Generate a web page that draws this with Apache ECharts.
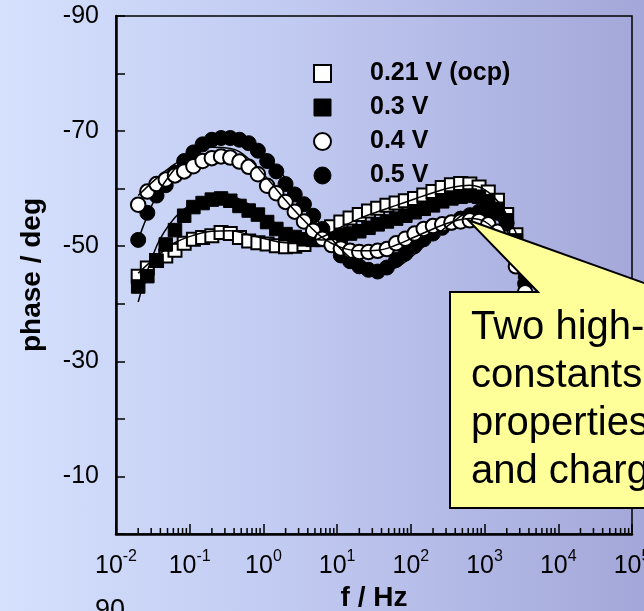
<!DOCTYPE html>
<html><head><meta charset="utf-8">
<script src="https://cdn.jsdelivr.net/npm/echarts@6/dist/echarts.min.js"></script>
<style>
html,body{margin:0;padding:0;overflow:hidden;}
#c{width:644px;height:611px;background:linear-gradient(to right,#d5e1fd 0%,#c1caf1 45%,#a3a7d9 100%);}
</style></head><body><div id="c"></div>
<script>
// frequencies (Hz) of the measured points
const freq = [0.02,0.02661,0.03548,0.04732,0.0631,0.08414,0.1122,0.1496,0.1995,0.2661,0.3548,0.4732,0.631,0.8414,1.122,1.496,1.995,2.661,3.548,4.732,6.31,8.414,11.22,14.96,19.95,26.61,35.48,47.32,63.1,84.14,112.2,149.6,199.5,266.1,354.8,473.2,631,841.4,1122,1496,1995,2661,3548];
// measured phase (deg)
const ph021 = [-44.8,-46.2,-47.5,-48.3,-49.3,-50.5,-51.2,-51.5,-51.8,-52.4,-52.2,-51.5,-50.9,-50.6,-50.4,-50.1,-49.9,-50.0,-50.3,-51.2,-52.3,-53.4,-54.2,-54.9,-55.5,-56.1,-56.6,-57.1,-57.5,-57.9,-58.3,-58.9,-59.5,-60.2,-60.7,-60.9,-60.8,-60.3,-59.4,-58.0,-55.5,-52.0,-48.0];
const ph03 = [-43.0,-44.8,-47.5,-50.3,-52.8,-55.3,-56.8,-57.5,-58.1,-58.3,-57.9,-57.0,-56.2,-55.5,-54.2,-53.0,-52.1,-51.6,-51.2,-51.1,-51.1,-51.3,-51.8,-52.2,-52.6,-53.2,-53.8,-54.3,-54.8,-55.3,-55.9,-56.5,-57.1,-57.8,-58.3,-58.6,-58.8,-58.6,-57.8,-56.5,-54.5,-51.0,-45.5];
const ph04 = [-57.2,-59.5,-60.8,-61.6,-62.3,-63.0,-63.9,-64.8,-65.3,-65.6,-65.4,-64.7,-63.8,-62.5,-60.5,-59.2,-57.7,-56.0,-54.3,-52.7,-51.3,-50.2,-49.6,-49.2,-49.0,-49.0,-49.2,-49.5,-50.5,-51.3,-52.2,-53.0,-53.5,-53.8,-54.1,-54.3,-54.5,-54.4,-53.8,-52.5,-50.0,-46.5,-42.0];
const ph05 = [-51.1,-55.8,-58.8,-60.6,-62.8,-64.8,-66.3,-67.7,-68.5,-68.8,-68.8,-68.5,-67.9,-66.6,-64.8,-63.0,-60.8,-59.0,-57.3,-55.3,-53.0,-50.3,-48.4,-47.4,-46.5,-45.9,-45.6,-46.3,-47.6,-48.7,-50.0,-51.2,-52.2,-53.2,-54.1,-54.8,-55.4,-56.0,-56.3,-55.8,-54.0,-50.0,-43.5];
// fitted curves
const fitFreq = [0.02,0.03548,0.0631,0.1122,0.1995,0.3548,0.631,1.122,1.995,3.548,6.31,11.22,19.95,35.48,63.1,112.2,199.5,354.8,631,1122,1995,3548];
const fit021 = [-45.3,-48.2,-50.6,-51.9,-52.6,-52.7,-52.0,-51.2,-50.6,-50.6,-51.6,-53.3,-54.8,-56.0,-57.1,-58.2,-59.3,-60.2,-60.6,-59.4,-55.5,-48.5];
const fit03 = [-40.3,-50.0,-55.0,-57.5,-58.6,-58.6,-57.3,-55.0,-52.9,-51.6,-51.1,-51.3,-52.2,-53.5,-54.9,-56.2,-57.4,-58.4,-58.9,-57.7,-52.8,-45.0];
const fit04 = [-58.8,-61.8,-64.3,-66.2,-67.2,-67.0,-65.2,-61.8,-58.0,-54.5,-51.5,-49.8,-49.2,-49.3,-50.2,-51.6,-53.0,-54.2,-54.8,-53.9,-49.8,-43.5];
const fit05 = [-51.1,-58.8,-63.5,-66.8,-68.6,-69.0,-68.0,-65.6,-61.8,-57.6,-53.3,-49.5,-46.8,-45.6,-46.3,-48.6,-51.4,-54.0,-55.8,-55.8,-51.8,-45.0];
// axis tick labels
const xTickExps = [-2,-1,0,1,2,3,4,5];
const yTickLabels = [-90,-70,-50,-30,-10];
const seriesNames = ['0.21 V (ocp)','0.3 V','0.4 V','0.5 V'];
const calloutLines = ['Two high-frequency time','constants reflect film','properties','and charge transfer'];

const FONT = "'Liberation Sans', Arial, Helvetica, sans-serif";
const pair = (xs, ys) => ys.map((v, i) => [xs[i], v]);
const minorTicks = [];
for (let e = -2; e < 5; e++) for (let k = 2; k <= 9; k++) minorTicks.push([k * Math.pow(10, e), 0]);

const chart = echarts.init(document.getElementById('c'), null, {renderer: 'canvas'});
const white = {color:'#fff', borderColor:'#000', borderWidth:2, opacity:1};
const black = {color:'#000', borderColor:'#000', borderWidth:1, opacity:1};
const fitLine = (name, ys) => ({type:'line', name, data: pair(fitFreq, ys), showSymbol:false, symbol:'none', smooth:0.4, lineStyle:{color:'#000', width:1.5, opacity:1}, z:5, silent:true});

chart.setOption({
  animation: false,
  backgroundColor: 'transparent',
  textStyle: {fontFamily: FONT},
  grid: {left:116, right:12, top:16, bottom:77, show:true, borderColor:'#000', borderWidth:1.5, backgroundColor:'transparent', containLabel:false, outerBoundsMode:'none'},
  legend: {
    orient:'vertical', left:313, top:61, padding:0, itemWidth:17, itemHeight:17, itemGap:9,
    selectedMode:false,
    textStyle:{fontFamily:FONT, fontSize:25, fontWeight:'bold', color:'#000', lineHeight:22, padding:[0,0,0,34]},
    data:[
      {name:seriesNames[0], icon:'rect', itemStyle:{color:'#fff', borderColor:'#000', borderWidth:2, opacity:1}},
      {name:seriesNames[1], icon:'rect', itemStyle:{color:'#000', borderColor:'#000', borderWidth:1, opacity:1}},
      {name:seriesNames[2], icon:'circle', itemStyle:{color:'#fff', borderColor:'#000', borderWidth:2, opacity:1}},
      {name:seriesNames[3], icon:'circle', itemStyle:{color:'#000', borderColor:'#000', borderWidth:1, opacity:1}}
    ]
  },
  xAxis: {
    type:'log', logBase:10, min:0.01, max:100000, splitNumber:7,
    axisLine:{lineStyle:{color:'#000', width:2.5}},
    axisTick:{inside:true, length:10, lineStyle:{color:'#000', width:1.5}},
    splitLine:{show:false},
    axisLabel:{
      margin:15, color:'#000', showMinLabel:true, showMaxLabel:true, hideOverlap:false,
      formatter: v => { const e = Math.round(Math.log10(v)); return xTickExps.includes(e) ? '{b|10}{s|' + e + '}' : ''; },
      rich:{
        b:{fontFamily:FONT, fontSize:25, color:'#000', lineHeight:30, verticalAlign:'bottom'},
        s:{fontFamily:FONT, fontSize:16, color:'#000', lineHeight:16, verticalAlign:'top'}
      }
    },
    name:'f / Hz', nameLocation:'middle', nameGap:50,
    nameTextStyle:{fontFamily:FONT, fontSize:28, fontWeight:'bold', color:'#000'}
  },
  yAxis: {
    type:'value', inverse:true, min:-90, max:0, interval:10,
    axisLine:{lineStyle:{color:'#000', width:2.5}},
    axisTick:{inside:true, length:9, lineStyle:{color:'#000', width:1.5}},
    splitLine:{show:false},
    axisLabel:{margin:17, color:'#000', fontFamily:FONT, fontSize:25, formatter: v => yTickLabels.includes(v) ? String(v) : ''},
    name:'phase / deg', nameLocation:'middle', nameGap:70,
    nameTextStyle:{fontFamily:FONT, fontSize:28, fontWeight:'bold', color:'#000'}
  },
  series: [
    {type:'scatter', name:seriesNames[0], data:pair(freq, ph021), symbol:'rect', symbolSize:13, itemStyle:white, z:2},
    {type:'scatter', name:seriesNames[1], data:pair(freq, ph03), symbol:'rect', symbolSize:13.5, itemStyle:black, z:2},
    {type:'scatter', name:seriesNames[3], data:pair(freq, ph05), symbol:'circle', symbolSize:15, itemStyle:black, z:2},
    {type:'scatter', name:seriesNames[2], data:pair(freq, ph04), symbol:'circle', symbolSize:14.5, itemStyle:white, z:2},
    fitLine('fit021', fit021), fitLine('fit03', fit03), fitLine('fit04', fit04), fitLine('fit05', fit05),
    {type:'custom', name:'minor', silent:true, z:6, clip:false, data:minorTicks,
     renderItem:(params, api) => { const p = api.coord([api.value(0), api.value(1)]); return {type:'line', shape:{x1:p[0], y1:p[1], x2:p[0], y2:p[1]-6}, style:{stroke:'#000', lineWidth:1.5}}; }}
  ],
  graphic: [
    {type:'polygon', z:100, silent:true,
     shape:{points:[[450,292],[538,292],[468,220],[669,292],[700,292],[700,508],[450,508]]},
     style:{fill:'#ffff99', stroke:'#000', lineWidth:2}},
    {type:'text', z:101, silent:true, x:471, y:304,
     style:{text:calloutLines.join('\n'), font:'40px ' + FONT, fill:'#000', lineHeight:48, verticalAlign:'top'}},
    {type:'text', z:101, silent:true, x:95, y:597,
     style:{text:'90', font:'27px ' + FONT, fill:'#000', verticalAlign:'top'}}
  ]
});
</script></body></html>
